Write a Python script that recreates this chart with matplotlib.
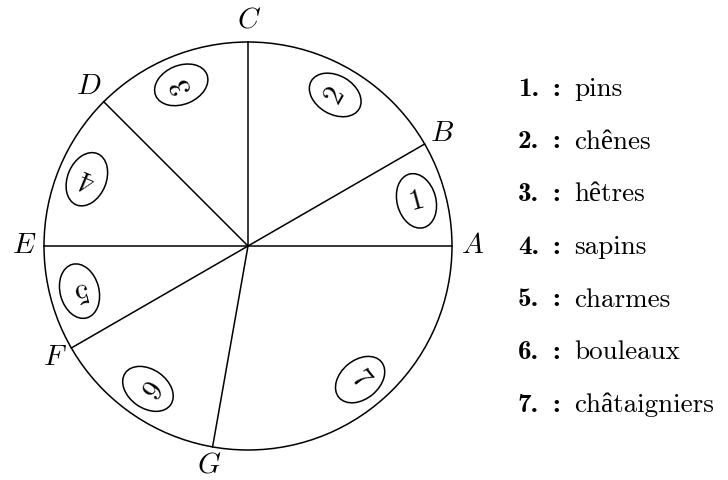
import numpy as np
import matplotlib.pyplot as plt
from matplotlib.patches import Circle

# points on the circle and size of each part (in units of 5 degrees)
points = ["A", "B", "C", "D", "E", "F", "G"]
parts = [6, 12, 9, 9, 6, 10, 20]
trees = ["pins", "chênes", "hêtres", "sapins", "charmes", "bouleaux", "châtaigniers"]

cx, cy, R = 248, 234, 204

fig = plt.figure(figsize=(7.28, 4.8), dpi=100)
ax = fig.add_axes([0, 0, 1, 1])
ax.set_xlim(0, 728)
ax.set_ylim(0, 480)
ax.set_aspect("equal")
ax.axis("off")

ax.add_patch(Circle((cx, cy), R, fill=False, lw=1.1, color="black"))

bounds = np.concatenate([[0], np.cumsum(parts)]) / sum(parts) * 360
for i, name in enumerate(points):
    a = np.radians(bounds[i])
    ax.plot([cx, cx + R * np.cos(a)], [cy, cy + R * np.sin(a)], color="black", lw=1.1)
    ax.text(cx + 1.1 * R * np.cos(a), cy + 1.1 * R * np.sin(a), name,
            family="cmmi10", fontsize=21, ha="center", va="center")

# numbered ellipses, turned with the middle of each part
for i in range(len(parts)):
    mid = (bounds[i] + bounds[i + 1]) / 2
    a = np.radians(mid)
    ax.text(cx + 0.855 * R * np.cos(a), cy + 0.855 * R * np.sin(a), str(i + 1),
            family="cmr10", fontsize=21, ha="center", va="center",
            rotation=mid, rotation_mode="anchor",
            bbox=dict(boxstyle="ellipse,pad=0.22", fc="white", ec="black", lw=1.1))

# legend on the right
for i, t in enumerate(trees):
    y = 391 - i * 52.7
    ax.text(518, y, f"{i + 1}.", family="cmb10", fontsize=19.5, ha="left", va="center")
    ax.text(552, y, ":", family="cmb10", fontsize=19.5, ha="left", va="center")
    ax.text(574, y, t, family=["cmr10", "Liberation Serif"], fontsize=19.5,
            ha="left", va="center")

fig.savefig("out.png", dpi=100)
